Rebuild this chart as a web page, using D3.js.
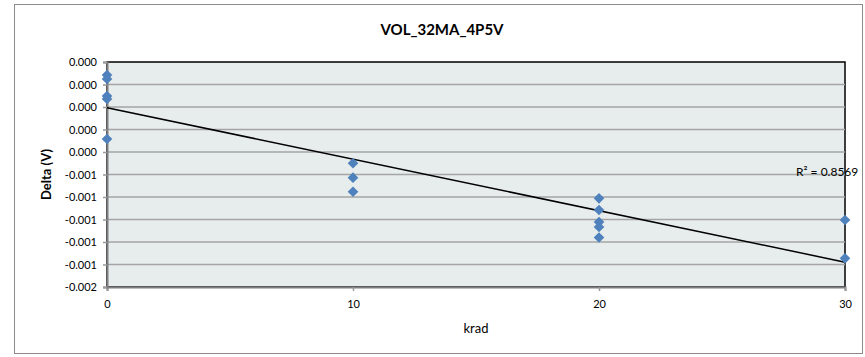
<!DOCTYPE html>
<html>
<head>
<meta charset="utf-8">
<script src="https://cdn.jsdelivr.net/npm/d3@7"></script>
<style>
  body { margin: 0; background: #fff; }
  text { font-family: Lato, "Open Sans", sans-serif; fill: #000; }
</style>
</head>
<body>
<div id="chart"></div>
<script>
// data
var xs = [0, 0, 0, 0, 0, 10, 10, 10, 20, 20, 20, 20, 20, 30, 30];
var ys = [0.000284, 0.000249, 0.000098, 0.000071, -0.000284,
          -0.000500, -0.000628, -0.000753,
          -0.000812, -0.000916, -0.001022, -0.001067, -0.001160,
          -0.001004, -0.001345];
var xTicks = [0, 10, 20, 30];
var yTicks = [0.0004, 0.0002, 0, -0.0002, -0.0004, -0.0006, -0.0008, -0.0010, -0.0012, -0.0014, -0.0016];
var yTickLabels = ["0.000", "0.000", "0.000", "0.000", "0.000", "-0.001", "-0.001", "-0.001", "-0.001", "-0.001", "-0.002"];
var rsqLabel = "R² = 0.8569";

var W = 865, H = 357;
var margin = { top: 62, right: 20, bottom: 70, left: 107 },
    width = 845 - margin.left,
    height = 287 - margin.top;

var svg = d3.select("#chart").append("svg")
    .attr("width", W)
    .attr("height", H);

// outer chart frame
svg.append("rect")
    .attr("x", 14.5).attr("y", 4.5)
    .attr("width", 848).attr("height", 349)
    .attr("fill", "#fff").attr("stroke", "#8c8c8c").attr("stroke-width", 1);

var g = svg.append("g")
    .attr("transform", "translate(" + margin.left + "," + margin.top + ")");

var scalex = d3.scaleLinear().domain([0, 30]).range([0, width]);
var scaley = d3.scaleLinear().domain([-0.0016, 0.0004]).range([height, 0]);

// plot area
g.append("rect")
    .attr("width", width).attr("height", height)
    .attr("fill", "#e7eded").attr("stroke", "#000").attr("stroke-width", 1.5);

// gridlines
g.selectAll(".grid")
    .data(yTicks.slice(1, -1))
    .enter().append("line")
    .attr("x1", 0).attr("x2", width)
    .attr("y1", function (d) { return scaley(d); })
    .attr("y2", function (d) { return scaley(d); })
    .attr("stroke", "#a5a5a5").attr("stroke-width", 1.5);

// axes
var xAxis = g.append("g")
    .attr("transform", "translate(0," + height + ")")
    .call(d3.axisBottom(scalex).tickValues(xTicks).tickSize(4).tickPadding(9)
        .tickFormat(d3.format("d")));
var yAxis = g.append("g")
    .call(d3.axisLeft(scaley).tickValues(yTicks).tickSize(4).tickPadding(6)
        .tickFormat(function (d, i) { return yTickLabels[i]; }));

[xAxis, yAxis].forEach(function (a) {
    a.select(".domain").attr("stroke", "#7f7f7f").attr("stroke-width", 2);
    a.selectAll(".tick line").attr("stroke", "#9a9a9a").attr("stroke-width", 1.5);
    a.selectAll("text").style("font-size", "11px").attr("fill", "#000");
});

// trend line (least squares)
var mx = d3.mean(xs), my = d3.mean(ys);
var sxy = d3.sum(xs, function (x, i) { return (x - mx) * (ys[i] - my); });
var sxx = d3.sum(xs, function (x) { return (x - mx) * (x - mx); });
var slope = sxy / sxx, icpt = my - slope * mx;

var trend = d3.line()
    .x(function (d) { return scalex(d); })
    .y(function (d) { return scaley(icpt + slope * d); });

g.append("path")
    .datum([0, 30])
    .attr("d", trend)
    .attr("fill", "none").attr("stroke", "#000").attr("stroke-width", 1.5);

// markers
g.selectAll(".pt")
    .data(xs)
    .enter().append("path")
    .attr("d", d3.symbol().type(d3.symbolDiamond2).size(72))
    .attr("transform", function (d, i) {
        return "translate(" + scalex(d) + "," + scaley(ys[i]) + ")";
    })
    .attr("fill", "#4f81bd");

// titles
svg.append("text")
    .attr("x", 442).attr("y", 35)
    .attr("text-anchor", "middle")
    .style("font-size", "15px").style("font-weight", "bold")
    .text("VOL_32MA_4P5V");

svg.append("text")
    .attr("x", 476).attr("y", 333)
    .attr("text-anchor", "middle")
    .style("font-size", "13px")
    .text("krad");

svg.append("text")
    .attr("transform", "translate(51," + (margin.top + height / 2) + ") rotate(-90)")
    .attr("text-anchor", "middle")
    .style("font-size", "13px").style("font-weight", "bold")
    .text("Delta (V)");

svg.append("text")
    .attr("x", 796).attr("y", 176)
    .style("font-size", "12px")
    .text(rsqLabel);
</script>
</body>
</html>
